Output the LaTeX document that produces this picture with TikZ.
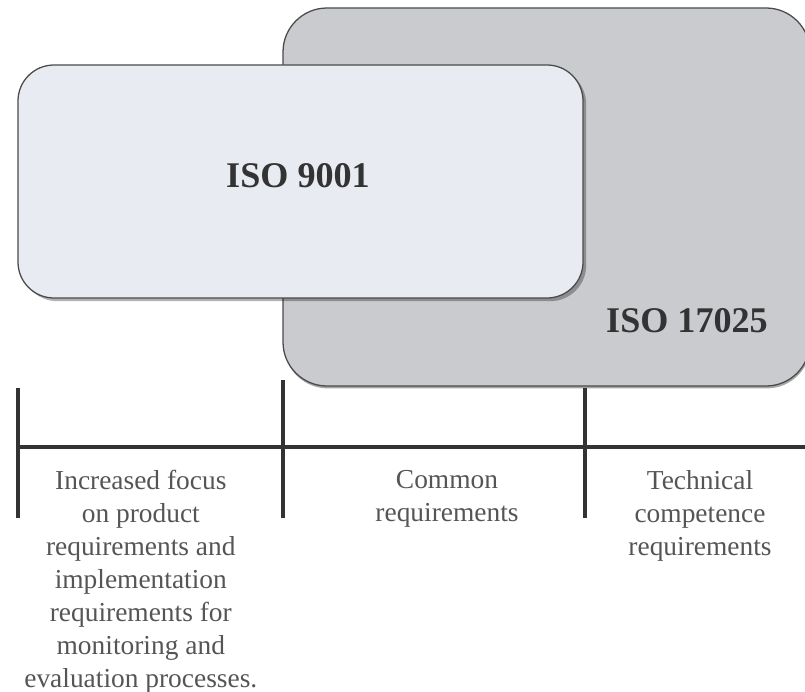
\documentclass[tikz,border=0pt]{standalone}
\usepackage{fontspec}
\setmainfont{Liberation Serif}
\usetikzlibrary{positioning, shadows}

\definecolor{boxgray}{HTML}{CACBCE}
\definecolor{boxlight}{HTML}{E9EBF2}
\definecolor{edgegray}{HTML}{4A4A4A}
\definecolor{inkgray}{HTML}{333333}
\definecolor{textgray}{HTML}{555555}

\begin{document}
\begin{tikzpicture}[
  stdbox/.style={draw=edgegray, line width=0.9pt, inner sep=0pt},
  bigbox/.style={stdbox, fill=boxgray, rounded corners=1.1cm,
    drop shadow={shadow xshift=0.02cm, shadow yshift=-0.06cm, fill=black, opacity=0.35}},
  smallbox/.style={stdbox, fill=boxlight, rounded corners=0.9cm,
    drop shadow={shadow xshift=0.08cm, shadow yshift=-0.08cm, fill=black, opacity=0.3}},
  title/.style={font=\fontsize{25.7}{30}\selectfont\bfseries, text=inkgray, inner sep=0pt, anchor=base},
  note/.style={font=\fontsize{19.5}{23.5}\selectfont, text=textgray, align=center, inner sep=0pt, anchor=north},
  axis/.style={draw=inkgray, line width=0.1cm}
]
\useasboundingbox (0,0) rectangle (20.125,-17.3);

% Axis with ticks
\coordinate (t1) at (0.45,-9.7);
\coordinate (t1b) at (0.45,-12.95);
\coordinate (t2) at (7.075,-9.5);
\coordinate (t2b) at (7.075,-12.95);
\coordinate (t3) at (14.625,-9.7);
\coordinate (t3b) at (14.625,-12.95);
\coordinate (s) at (0.45,-11.175);
\coordinate (e) at (20.2,-11.175);

\draw[axis] (t1) -- (t1b);
\draw[axis] (t2) -- (t2b);
\draw[axis] (t3) -- (t3b);
\draw[axis] (s) -- (e);

% Boxes
\node[bigbox, minimum width=13.175cm, minimum height=9.45cm] (iso17025) at (13.6625,-4.925) {};
\node[smallbox, minimum width=14.125cm, minimum height=5.825cm] (iso9001) at (7.5125,-4.5375) {};

\node[title] (lab9001) at (7.45,-4.7) {ISO 9001};
\node[title] (lab17025) at (17.175,-8.325) {ISO 17025};

% Notes under the axis
\node[note] (left) at (3.52,-11.75) {Increased focus\\on product\\requirements and\\implementation\\requirements for\\monitoring and\\evaluation processes.};
\node[note] (mid) at (11.175,-11.75) {Common\\requirements};
\node[note] (right) at (17.5,-11.75) {Technical\\competence\\requirements};

\end{tikzpicture}
\end{document}
